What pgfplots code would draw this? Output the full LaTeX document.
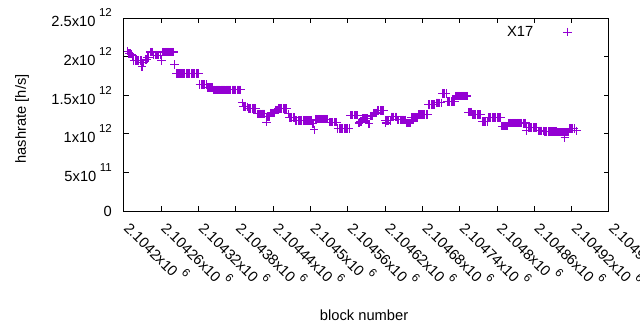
\documentclass[border=0pt]{standalone}
\usepackage{pgfplots}
\pgfplotsset{compat=1.18}
\usepackage{fontspec}
\setmainfont{Liberation Sans}
\definecolor{gpviolet}{RGB}{148,0,211}
\newcommand{\sci}[2]{#1x10\hspace{3.5bp}\raisebox{10bp}{\fontsize{11.5bp}{12bp}\selectfont #2}}
\begin{document}
\begin{tikzpicture}[font=\fontsize{14.7bp}{17bp}\selectfont]
\begin{axis}[
  scale only axis, width=485bp, height=193bp,
  xmin=200, xmax=980, ymin=0, ymax=2.5,
  xtick={200,260,320,380,440,500,560,620,680,740,800,860,920,980},
  xticklabels={\sci{2.1042}{6},\sci{2.10426}{6},\sci{2.10432}{6},\sci{2.10438}{6},\sci{2.10444}{6},\sci{2.1045}{6},\sci{2.10456}{6},\sci{2.10462}{6},\sci{2.10468}{6},\sci{2.10474}{6},\sci{2.1048}{6},\sci{2.10486}{6},\sci{2.10492}{6},\sci{2.10498}{6}},
  ytick={0,0.5,1,1.5,2,2.5},
  yticklabels={0,\sci{5}{11},\sci{1}{12},\sci{1.5}{12},\sci{2}{12},\sci{2.5}{12}},
  tick align=inside, major tick length=5bp, minor tick num=0,
  axis line style={line width=1bp},
  every tick/.style={black, line width=1bp},
  xticklabel style={xshift=-1bp, yshift=-18bp, rotate=-45, anchor=base west, inner sep=0pt},
  yticklabel style={anchor=east, inner sep=0pt, xshift=-12bp},
  xlabel={block number}, ylabel={hashrate [h/s]},
  xlabel style={at={(axis description cs:0.495,-0.539)}, anchor=center},
  ylabel style={at={(axis description cs:-0.2103,0.477)}, anchor=center, rotate=0},
  legend plot pos=right,
  legend image code/.code={\path[draw=none,fill=none] (0bp,-1bp) rectangle (34bp,1bp); \draw[#1, line width=0.8bp] plot coordinates {(34bp,0bp)};},
  legend style={draw=none, fill=none, inner sep=0pt, outer sep=0pt, nodes={inner sep=0pt},
    at={(axis description cs:0.9227,0.927)}, anchor=east},
]
\addplot[only marks, mark=+, mark size=4.2bp, gpviolet, mark options={line width=1.1bp}] coordinates {
(206,2.07)(208,2.04)(210,2.04)(212,2.03)(214,2.01)
(216,1.95)(218,1.95)(220,1.95)(222,1.95)(224,1.95)(226,1.95)(228,1.95)
(229,1.87)(230,1.92)(232,1.92)(234,1.96)(236,1.96)(238,1.99)(240,1.99)
(242,2.06)(244,2.06)(246,2.06)
(248,2.02)(250,2.02)(252,2.02)(254,2.02)(256,2.02)(258,2.02)
(260,1.95)
(262,2.06)(264,2.06)(266,2.06)(268,2.06)(270,2.06)(272,2.06)(274,2.06)(276,2.06)(278,2.06)(280,2.06)
(281,1.90)
(284,1.78)(286,1.78)(288,1.78)(290,1.78)(292,1.78)(294,1.78)(296,1.78)(298,1.78)(300,1.78)(302,1.78)
(304,1.78)(306,1.78)(308,1.78)(310,1.78)(312,1.78)(314,1.78)(316,1.78)(318,1.78)(320,1.78)
(322,1.64)(324,1.64)(326,1.64)(328,1.64)(330,1.64)(332,1.64)
(334,1.60)(336,1.60)(338,1.60)(340,1.60)(342,1.60)
(344,1.57)(346,1.57)(348,1.57)(350,1.57)(352,1.57)(354,1.57)(356,1.57)(358,1.57)(360,1.57)(362,1.57)
(364,1.57)(366,1.57)(368,1.57)(370,1.57)(372,1.57)(374,1.57)(376,1.57)(378,1.57)(380,1.57)(382,1.57)
(384,1.57)(386,1.57)(388,1.57)
(390,1.40)
(392,1.35)(394,1.35)(396,1.35)(398,1.35)
(400,1.33)(402,1.33)(404,1.33)(406,1.33)(408,1.33)(410,1.33)(412,1.33)
(414,1.26)(416,1.26)(418,1.26)(420,1.26)(422,1.26)(424,1.26)(426,1.26)
(429,1.15)
(430,1.22)(432,1.22)(434,1.22)
(436,1.27)(438,1.27)(440,1.27)(442,1.27)
(444,1.31)(446,1.31)
(448,1.33)(450,1.33)(452,1.33)(454,1.33)(456,1.33)(458,1.33)(460,1.33)(462,1.33)
(464,1.26)(466,1.21)(468,1.21)(470,1.21)(472,1.21)(474,1.21)
(476,1.17)(478,1.17)(480,1.17)(482,1.17)(484,1.17)(486,1.17)(488,1.17)(490,1.17)(492,1.17)(494,1.17)
(496,1.17)(498,1.17)(500,1.17)(502,1.17)
(504,1.13)(506,1.05)
(508,1.19)(510,1.19)(512,1.19)(514,1.19)(516,1.19)(518,1.19)(520,1.19)(522,1.19)(524,1.19)(526,1.19)(528,1.19)
(530,1.15)(532,1.15)(534,1.15)(536,1.15)(538,1.15)(540,1.15)(542,1.15)
(544,1.07)(546,1.07)(548,1.07)(550,1.07)(552,1.07)(554,1.07)(556,1.07)(558,1.07)(560,1.07)(562,1.07)
(564,1.24)(566,1.24)(568,1.24)(570,1.24)(572,1.24)(574,1.24)(576,1.24)
(578,1.14)(580,1.16)(582,1.16)
(584,1.20)(586,1.20)(588,1.20)(590,1.20)(592,1.20)
(594,1.13)
(596,1.23)(598,1.23)(600,1.23)
(602,1.27)(604,1.27)(606,1.27)
(608,1.30)(610,1.30)(612,1.30)(614,1.30)(616,1.30)(618,1.30)
(620,1.17)(621,1.14)(622,1.17)(624,1.17)(626,1.17)(628,1.17)
(630,1.22)(632,1.22)(634,1.22)(636,1.22)(638,1.22)
(640,1.18)(642,1.18)(644,1.18)(646,1.18)(648,1.18)(650,1.18)(652,1.18)
(654,1.14)(656,1.14)(658,1.14)(660,1.14)
(662,1.21)(664,1.21)(666,1.21)(668,1.21)(670,1.21)(672,1.21)
(674,1.25)(676,1.25)(678,1.25)(680,1.25)(682,1.25)(684,1.25)(686,1.25)(688,1.25)
(690,1.38)(692,1.38)(694,1.38)(696,1.38)(698,1.38)(700,1.38)
(702,1.40)(704,1.40)(706,1.40)(708,1.40)(710,1.40)
(712,1.52)(714,1.52)(716,1.52)(718,1.52)
(720,1.42)(722,1.42)(724,1.42)(726,1.42)(728,1.42)(730,1.42)(732,1.42)
(734,1.49)(736,1.49)(738,1.49)(740,1.49)(742,1.49)(744,1.49)(746,1.49)(748,1.49)(750,1.49)(752,1.49)
(754,1.28)(756,1.28)(758,1.28)
(760,1.25)(762,1.25)(764,1.25)(766,1.25)(768,1.25)(770,1.25)(772,1.25)(774,1.25)
(776,1.16)(778,1.16)(780,1.16)(782,1.16)(784,1.16)
(786,1.21)(788,1.21)(790,1.21)(792,1.21)(794,1.21)(796,1.21)(798,1.21)(800,1.21)(802,1.21)(804,1.21)(806,1.21)
(808,1.10)(810,1.10)(812,1.10)(814,1.10)(816,1.10)
(818,1.14)(820,1.14)(822,1.14)(824,1.14)(826,1.14)(828,1.14)(830,1.14)(832,1.14)(834,1.14)(836,1.14)
(838,1.14)(840,1.14)(842,1.14)(844,1.14)(846,1.14)
(847,1.04)
(848,1.08)(850,1.08)(852,1.08)(854,1.08)(856,1.08)(858,1.08)(860,1.08)(862,1.08)(864,1.08)
(866,1.04)(868,1.04)(870,1.04)(872,1.04)(874,1.04)
(876,1.03)(878,1.03)(880,1.03)(882,1.03)(884,1.03)(886,1.03)(888,1.03)(890,1.03)(892,1.03)(894,1.03)(896,1.03)
(898,1.02)(900,1.02)(902,1.02)(904,1.02)(906,1.02)(908,1.02)(910,1.02)(912,1.02)(914,1.02)
(909,0.95)
(916,1.07)(918,1.07)(920,1.07)(922,1.07)(924,1.07)
(928,1.04)
};
\addlegendentry{X17}
\end{axis}
\pgfresetboundingbox
\path[use as bounding box] (-124bp,-119bp) rectangle (516bp,211bp);
\end{tikzpicture}
\end{document}
